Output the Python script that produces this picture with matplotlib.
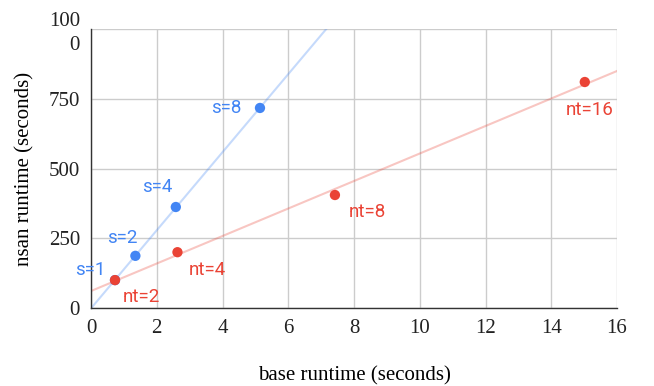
import numpy as np
import matplotlib.pyplot as plt

# base runtime (x) and nsan runtime (y)
s_labels = ['s=1', 's=2', 's=4', 's=8']
s_base = [0.73, 1.35, 2.58, 5.14]
s_nsan = [100, 187, 362, 717]

nt_labels = ['nt=2', 'nt=4', 'nt=8', 'nt=16']
nt_base = [0.73, 2.63, 7.42, 15.02]
nt_nsan = [100, 200, 405, 810]

x_ticks = [0, 2, 4, 6, 8, 10, 12, 14, 16]
y_ticks = [0, 250, 500, 750, 1000]
y_tick_labels = ['0', '250', '500', '750', '100\n0']

blue = '#4285F4'
red = '#EA4335'
serif = 'Liberation Serif'
label_font = 'Roboto'

# label offsets in pixels (text centre relative to point)
s_offsets = [(-25, 10), (-13, 18), (-19, 20), (-34, 0)]
nt_offsets = [(26, -17), (30, -18), (32, -17), (5, -28)]

fig = plt.figure(figsize=(6.54, 3.86), dpi=100)
ax = fig.add_axes([91 / 654, 78 / 386, 526 / 654, 279 / 386])

xs = np.array([0, 16])
for bx, ny, c in [(s_base, s_nsan, blue), (nt_base, nt_nsan, red)]:
    slope, icpt = np.polyfit(bx, ny, 1)
    ax.plot(xs, slope * xs + icpt, color=c, alpha=0.3, lw=1.5, zorder=2)

ax.scatter(s_base, s_nsan, color=blue, s=55, zorder=3, edgecolors='none')
ax.scatter(nt_base, nt_nsan, color=red, s=55, zorder=4, edgecolors='none')

for lab, x, y, off in zip(s_labels, s_base, s_nsan, s_offsets):
    ax.annotate(lab, (x, y), xytext=off, textcoords='offset pixels',
                ha='center', va='center', color=blue, fontsize=13.5,
                family=label_font)
for lab, x, y, off in zip(nt_labels, nt_base, nt_nsan, nt_offsets):
    ax.annotate(lab, (x, y), xytext=off, textcoords='offset pixels',
                ha='center', va='center', color=red, fontsize=13.5,
                family=label_font)

ax.set_xlim(0, 16)
ax.set_ylim(0, 1000)
ax.set_xticks(x_ticks)
ax.set_yticks(y_ticks)
ax.set_yticklabels(y_tick_labels, linespacing=1.3)
ax.grid(True, color='#cccccc', lw=1)
ax.set_axisbelow(True)
ax.tick_params(length=0, labelsize=15, colors='#222222', pad=8)
for t in ax.get_xticklabels() + ax.get_yticklabels():
    t.set_family(serif)

for side in ['top', 'right']:
    ax.spines[side].set_visible(False)
for side in ['left', 'bottom']:
    ax.spines[side].set_color('#333333')
    ax.spines[side].set_linewidth(1)

ax.set_xlabel('base runtime (seconds)', family=serif, fontsize=15, labelpad=20)
ax.set_ylabel('nsan runtime (seconds)', family=serif, fontsize=15, labelpad=10)

fig.savefig('out.png', dpi=100)
